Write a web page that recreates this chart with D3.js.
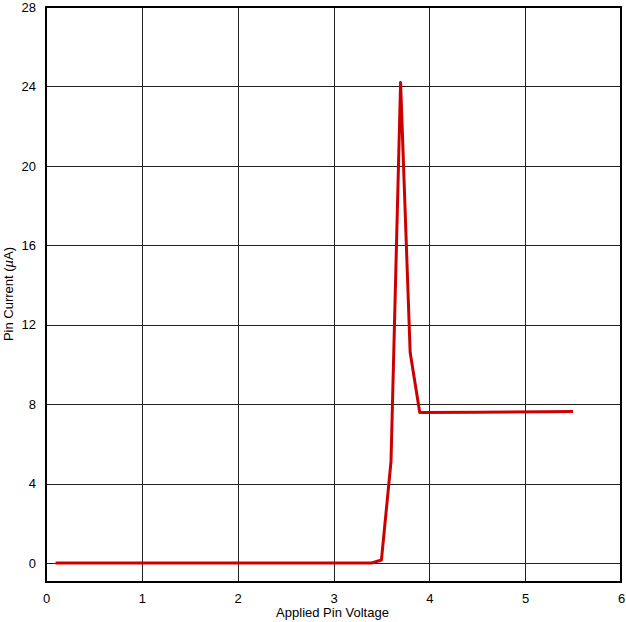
<!DOCTYPE html>
<html><head><meta charset="utf-8">
<script src="https://cdn.jsdelivr.net/npm/d3@7"></script>
<style>body{margin:0;background:#fff}svg{display:block}text{font-family:"Liberation Sans",Arial,sans-serif}</style>
</head><body>
<svg id="c" width="626" height="622"></svg>
<script>
const voltage = [0.1, 3.4, 3.5, 3.6, 3.7, 3.8, 3.9, 4.5, 5.2, 5.5];
const current = [0.0, 0.0, 0.15, 5.1, 24.2, 10.6, 7.58, 7.59, 7.62, 7.63];
const xTicks = [0, 1, 2, 3, 4, 5, 6];
const yTicks = [0, 4, 8, 12, 16, 20, 24, 28];
const xTitle = "Applied Pin Voltage";
const yTitle = "Pin Current (";

const svg = d3.select("#c");
const L = 46, R = 621, T = 7, B = 582;
const x = d3.scaleLinear().domain([0, 6]).range([L, R]);
const y = d3.scaleLinear().domain([0, 28]).range([563, T]);
const FS = 13;

// grid
svg.append("g").selectAll("line").data(xTicks.slice(1, -1)).join("line")
  .attr("x1", d => Math.round(x(d)) + 0.5).attr("x2", d => Math.round(x(d)) + 0.5)
  .attr("y1", T).attr("y2", B).attr("stroke", "#222").attr("stroke-width", 1);
svg.append("g").selectAll("line").data(yTicks.slice(0, -1)).join("line")
  .attr("y1", d => Math.round(y(d)) + 0.5).attr("y2", d => Math.round(y(d)) + 0.5)
  .attr("x1", L).attr("x2", R).attr("stroke", "#222").attr("stroke-width", 1);

// frame
svg.append("rect").attr("x", L).attr("y", T).attr("width", R - L).attr("height", B - T)
  .attr("fill", "none").attr("stroke", "#000").attr("stroke-width", 2);

// axes labels via d3 axes
const yAxis = d3.axisLeft(y).tickValues(yTicks).tickFormat(d3.format("d")).tickSize(0).tickPadding(10);
const gy = svg.append("g").attr("transform", `translate(${L},0)`).call(yAxis);
gy.select(".domain").remove();
gy.selectAll("text").attr("font-size", FS).attr("fill", "#000")
  .attr("font-family", '"Liberation Sans",Arial,sans-serif');

const xAxis = d3.axisBottom(x).tickValues(xTicks).tickFormat(d3.format("d")).tickSize(0).tickPadding(12);
const gx = svg.append("g").attr("transform", `translate(0,${B})`).call(xAxis);
gx.select(".domain").remove();
gx.selectAll("text").attr("font-size", FS).attr("fill", "#000")
  .attr("font-family", '"Liberation Sans",Arial,sans-serif');

// line
const pts = voltage.map((v, i) => [v, current[i]]);
svg.append("path").datum(pts)
  .attr("d", d3.line().x(d => x(d[0])).y(d => y(d[1])))
  .attr("fill", "none").attr("stroke", "#cc0000").attr("stroke-width", 3)
  .attr("stroke-linejoin", "round");

// titles
svg.append("text").attr("x", (L + R) / 2 - 1).attr("y", 617).attr("text-anchor", "middle")
  .attr("font-size", FS).text(xTitle);
const yt = svg.append("text").attr("transform", "translate(13,294) rotate(-90)")
  .attr("text-anchor", "middle").attr("font-size", FS);
yt.append("tspan").text(yTitle);
yt.append("tspan").attr("font-style", "italic").text("µ");
yt.append("tspan").text("A)");
</script>
</body></html>
